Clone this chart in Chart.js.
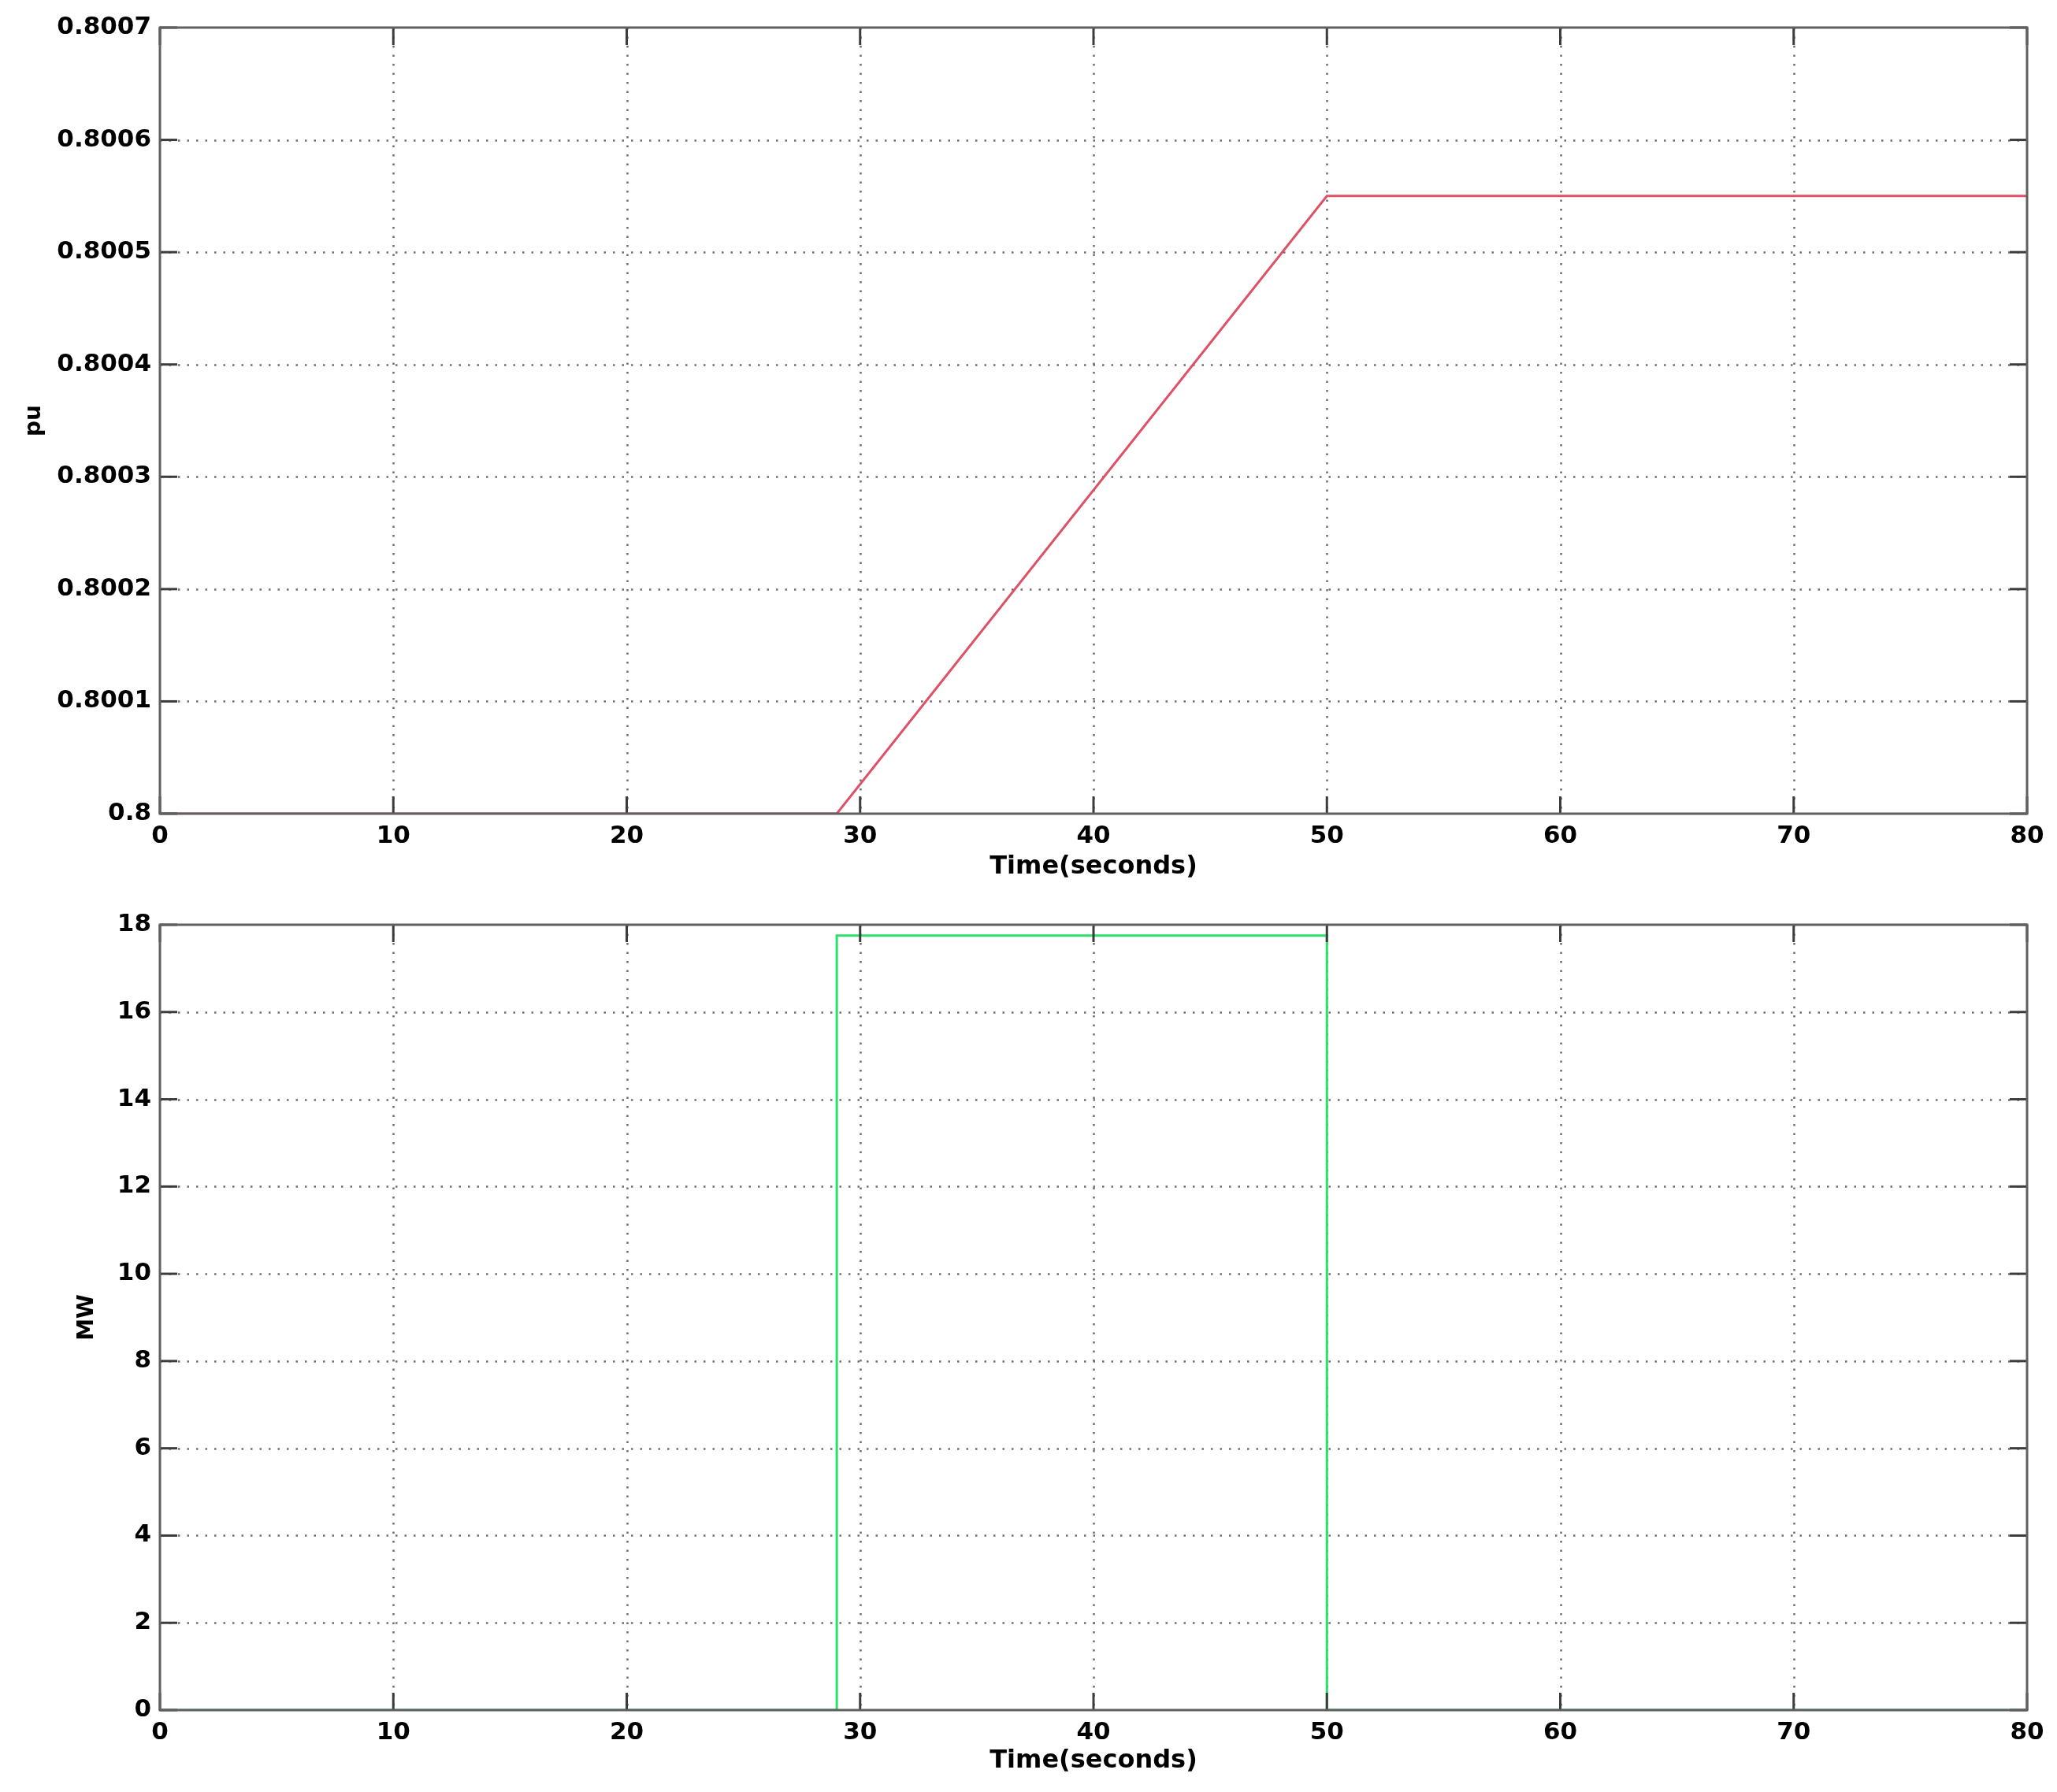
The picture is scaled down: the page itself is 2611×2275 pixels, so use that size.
<!DOCTYPE html>
<html>
<head>
<meta charset="utf-8">
<script src="https://cdn.jsdelivr.net/npm/chart.js@4/dist/chart.umd.min.js"></script>
<style>
  html, body { margin: 0; padding: 0; background: #ffffff; }
  #wrap { position: relative; width: 2611px; height: 2275px; background: #fff; }
  canvas { position: absolute; left: 0; }
  #c1 { top: 0; }
  #c2 { top: 1130px; }
</style>
</head>
<body>
<div id="wrap">
  <canvas id="c1" width="2611" height="1130"></canvas>
  <canvas id="c2" width="2611" height="1145"></canvas>
</div>
<script>
// ---- Data ----
const timeTicks = [0, 10, 20, 30, 40, 50, 60, 70, 80];
const puTime = [0, 29, 50, 80];
const puValues = [0.8, 0.8, 0.80055, 0.80055];
const puTickValues = [0.8, 0.8001, 0.8002, 0.8003, 0.8004, 0.8005, 0.8006, 0.8007];
const puTickLabels = ['0.8', '0.8001', '0.8002', '0.8003', '0.8004', '0.8005', '0.8006', '0.8007'];
const mwTime = [0, 29, 29, 50, 50, 80];
const mwValues = [0, 0, 17.75, 17.75, 0, 0];
const mwTickValues = [0, 2, 4, 6, 8, 10, 12, 14, 16, 18];
const mwTickLabels = ['0', '2', '4', '6', '8', '10', '12', '14', '16', '18'];
const xTitle = 'Time(seconds)';
const puTitle = 'pu';
const mwTitle = 'MW';

const FONT = "'DejaVu Sans', sans-serif";

const matlabAxes = {
  id: 'matlabAxes',
  beforeDatasetsDraw(chart) {
    const ctx = chart.ctx;
    const a = chart.chartArea;
    const xs = chart.scales.x, ys = chart.scales.y;
    ctx.save();
    ctx.strokeStyle = '#6e6e6e';
    ctx.lineWidth = 2.5;
    ctx.setLineDash([2.5, 9]);
    xs.ticks.forEach(t => {
      const px = Math.round(xs.getPixelForValue(t.value)) + 0.5;
      if (px <= a.left + 2 || px >= a.right - 2) return;
      ctx.beginPath(); ctx.moveTo(px, a.top); ctx.lineTo(px, a.bottom); ctx.stroke();
    });
    ys.ticks.forEach(t => {
      const py = Math.round(ys.getPixelForValue(t.value)) + 0.5;
      if (py <= a.top + 2 || py >= a.bottom - 2) return;
      ctx.beginPath(); ctx.moveTo(a.left, py); ctx.lineTo(a.right, py); ctx.stroke();
    });
    ctx.restore();
  },
  afterDatasetsDraw(chart) {
    const ctx = chart.ctx;
    const a = chart.chartArea;
    const xs = chart.scales.x, ys = chart.scales.y;
    const L = 22;
    ctx.save();
    ctx.setLineDash([]);
    ctx.strokeStyle = '#3c3c3c';
    ctx.lineWidth = 3;
    xs.ticks.forEach(t => {
      const px = xs.getPixelForValue(t.value);
      ctx.beginPath(); ctx.moveTo(px, a.bottom); ctx.lineTo(px, a.bottom - L); ctx.stroke();
      ctx.beginPath(); ctx.moveTo(px, a.top); ctx.lineTo(px, a.top + L); ctx.stroke();
    });
    ys.ticks.forEach(t => {
      const py = ys.getPixelForValue(t.value);
      ctx.beginPath(); ctx.moveTo(a.left, py); ctx.lineTo(a.left + L, py); ctx.stroke();
      ctx.beginPath(); ctx.moveTo(a.right, py); ctx.lineTo(a.right - L, py); ctx.stroke();
    });
    ctx.strokeStyle = '#606060';
    ctx.lineWidth = 3;
    ctx.strokeRect(a.left, a.top, a.right - a.left, a.bottom - a.top);
    ctx.restore();
  }
};

function makeChart(canvasId, xsData, ysData, color, tickValues, tickLabels, yTitle, opts) {
  const pts = xsData.map((x, i) => ({ x: x, y: ysData[i] }));
  return new Chart(document.getElementById(canvasId), {
    type: 'line',
    data: {
      datasets: [{
        data: pts,
        borderColor: color,
        borderWidth: 3,
        pointRadius: 0,
        tension: 0,
        fill: false
      }]
    },
    options: {
      responsive: false,
      animation: false,
      devicePixelRatio: 1,
      layout: { padding: { top: opts.padTop, right: 38, left: 0, bottom: 0 } },
      plugins: { legend: { display: false }, tooltip: { enabled: false } },
      scales: {
        x: {
          type: 'linear',
          min: 0, max: 80,
          afterBuildTicks: (s) => { s.ticks = timeTicks.map(v => ({ value: v })); },
          afterFit: (s) => { s.height = opts.xHeight; },
          grid: { display: false, drawTicks: false },
          border: { display: false },
          ticks: {
            color: '#000',
            padding: 10,
            maxRotation: 0,
            autoSkip: false,
            font: { family: FONT, size: 31, weight: 'bold' },
            callback: (v) => String(v)
          },
          title: {
            display: true,
            text: xTitle,
            color: '#000',
            font: { family: FONT, size: 32, weight: 'bold' },
            padding: { top: 0, bottom: opts.xTitlePad }
          }
        },
        y: {
          type: 'linear',
          min: tickValues[0], max: tickValues[tickValues.length - 1],
          afterBuildTicks: (s) => { s.ticks = tickValues.map(v => ({ value: v })); },
          afterFit: (s) => { s.width = 203; },
          grid: { display: false, drawTicks: false },
          border: { display: false },
          ticks: {
            color: '#000',
            padding: 11,
            autoSkip: false,
            font: { family: FONT, size: 31, weight: 'bold' },
            callback: (v, i) => tickLabels[i]
          },
          title: {
            display: true,
            text: yTitle,
            color: '#000',
            font: { family: FONT, size: 28, weight: 'bold' },
            padding: { top: opts.yTitlePad, bottom: 0 }
          }
        }
      }
    },
    plugins: [matlabAxes]
  });
}

makeChart('c1', puTime, puValues, '#de5266', puTickValues, puTickLabels, puTitle,
  { padTop: 35, xHeight: 97, xTitlePad: 10, yTitlePad: 27 });
makeChart('c2', mwTime, mwValues, '#2ede6c', mwTickValues, mwTickLabels, mwTitle,
  { padTop: 44, xHeight: 104, xTitlePad: 20, yTitlePad: 94 });
</script>
</body>
</html>
